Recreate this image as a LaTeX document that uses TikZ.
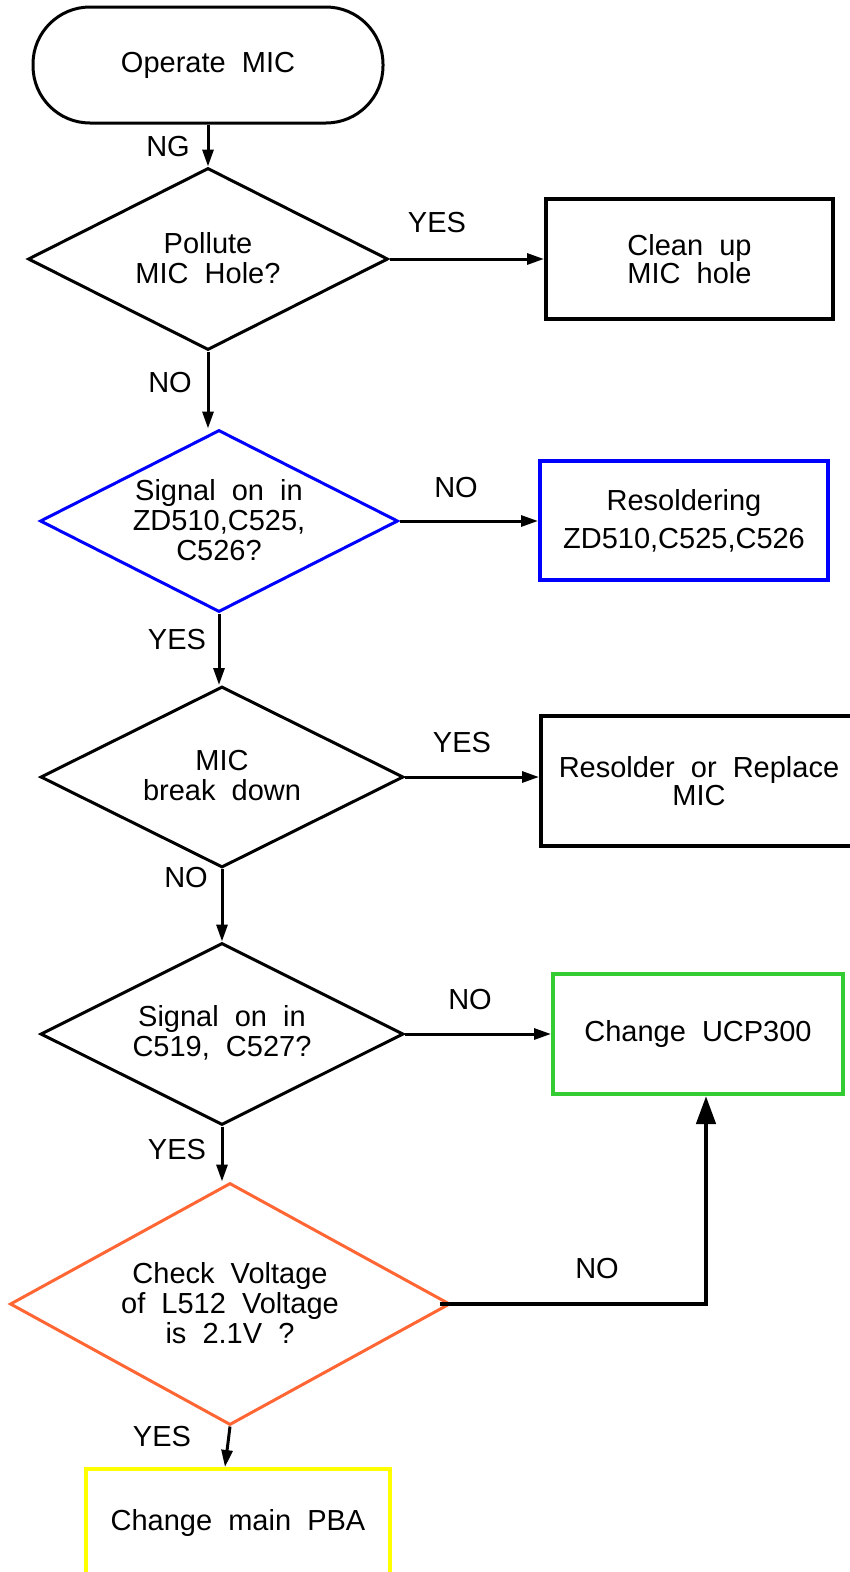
\documentclass[tikz,border=0pt]{standalone}
\usepackage{fontspec}
\setmainfont{Liberation Sans}[WordSpace=2.0]
\usetikzlibrary{shapes.geometric,arrows.meta}
\definecolor{cblue}{RGB}{0,0,255}
\definecolor{cgreen}{RGB}{51,204,51}
\definecolor{corange}{RGB}{255,102,51}
\definecolor{cyellow}{RGB}{255,255,0}
\tikzset{
  base/.style={font=\fontsize{29}{30}\selectfont, align=center, inner sep=0pt},
  dia/.style={diamond, draw, line width=3pt, minimum width=#1, inner sep=0pt},
  box/.style={rectangle, draw, line width=4pt, base},
  txt/.style={base},
  lab/.style={base},
  arr/.style={-{Triangle[length=17pt,width=11pt]}, line width=3pt},
}
\begin{document}
\begin{tikzpicture}[x=1pt,y=-1pt]
\useasboundingbox (0,0) rectangle (850,1572);
\clip (0,0) rectangle (850,1572);
% terminal
\node[base, draw, line width=3pt, rectangle, rounded corners=57pt, minimum width=350pt, minimum height=116pt] (term) at (208,65) {Operate MIC};
% diamonds
\node[dia=360pt, minimum height=182pt] (d1) at (208,259) {};
\node[txt] (d1t) at (208,258) {Pollute\\MIC Hole?};
\node[dia=358pt, minimum height=182pt, draw=cblue] (d2) at (219,521) {};
\node[txt] (d2t) at (219,520) {Signal on in\\ZD510,C525,\\C526?};
\node[dia=363pt, minimum height=181pt] (d3) at (222,777) {};
\node[txt] (d3t) at (222,776) {MIC\\break down};
\node[dia=363pt, minimum height=182pt] (d4) at (222,1034) {};
\node[txt] (d4t) at (222,1033) {Signal on in\\C519, C527?};
\node[dia=440pt, minimum height=242pt, draw=corange] (d5) at (230,1304) {};
\node[txt] (d5t) at (230,1303) {Check Voltage\\of L512 Voltage\\is 2.1V ?};
% boxes
\node[box, minimum width=287pt, minimum height=120pt] (clean) at (689.5,259) {Clean up\\[-2pt]MIC hole};
\node[box, draw=cblue, minimum width=288pt, minimum height=119pt] (resold) at (684,520.5) {Resoldering\\[8pt]ZD510,C525,C526};
\node[box, minimum width=316pt, minimum height=130pt] (rr) at (699,781) {Resolder or Replace\\[-2pt]MIC};
\node[box, draw=cgreen, minimum width=290pt, minimum height=120pt] (ucp) at (698,1034) {Change UCP300};
\node[box, draw=cyellow, minimum width=304pt, minimum height=108pt] (pba) at (238,1523) {Change main PBA};
% connectors
\draw[arr] (term.south) -- (d1.north);
\draw[arr] (d1.east) -- (d1.east -| clean.west);
\draw[arr] (d1.south) -- (d1.south |- d2.north);
\draw[arr] (d2.east) -- (d2.east -| resold.west);
\draw[arr] (d2.south) -- (d2.south |- d3.north);
\draw[arr] (d3.east) -- (d3.east -| rr.west);
\draw[arr] (d3.south) -- (d3.south |- d4.north);
\draw[arr] (d4.east) -- (d4.east -| ucp.west);
\draw[arr] (d4.south) -- (d4.south |- d5.north);
\draw[arr, line width=4.5pt, -{Triangle[length=28pt,width=19pt]}] ([xshift=-12pt]d5.east) -| ([xshift=8pt]ucp.south);
\draw[arr] (d5.south) -- ([xshift=-5pt]d5.south |- pba.north);
% labels
\node[lab] (lng) at (168,147) {NG};
\node[lab] (ly1) at (437,223) {YES};
\node[lab] (ln1) at (170,383) {NO};
\node[lab] (ln2) at (456,488) {NO};
\node[lab] (ly2) at (177,640) {YES};
\node[lab] (ly3) at (462,743) {YES};
\node[lab] (ln3) at (186,878) {NO};
\node[lab] (ln4) at (470,1000) {NO};
\node[lab] (ly4) at (177,1150) {YES};
\node[lab] (ln5) at (597,1268) {NO};
\node[lab] (ly5) at (162,1436) {YES};
\end{tikzpicture}
\end{document}
